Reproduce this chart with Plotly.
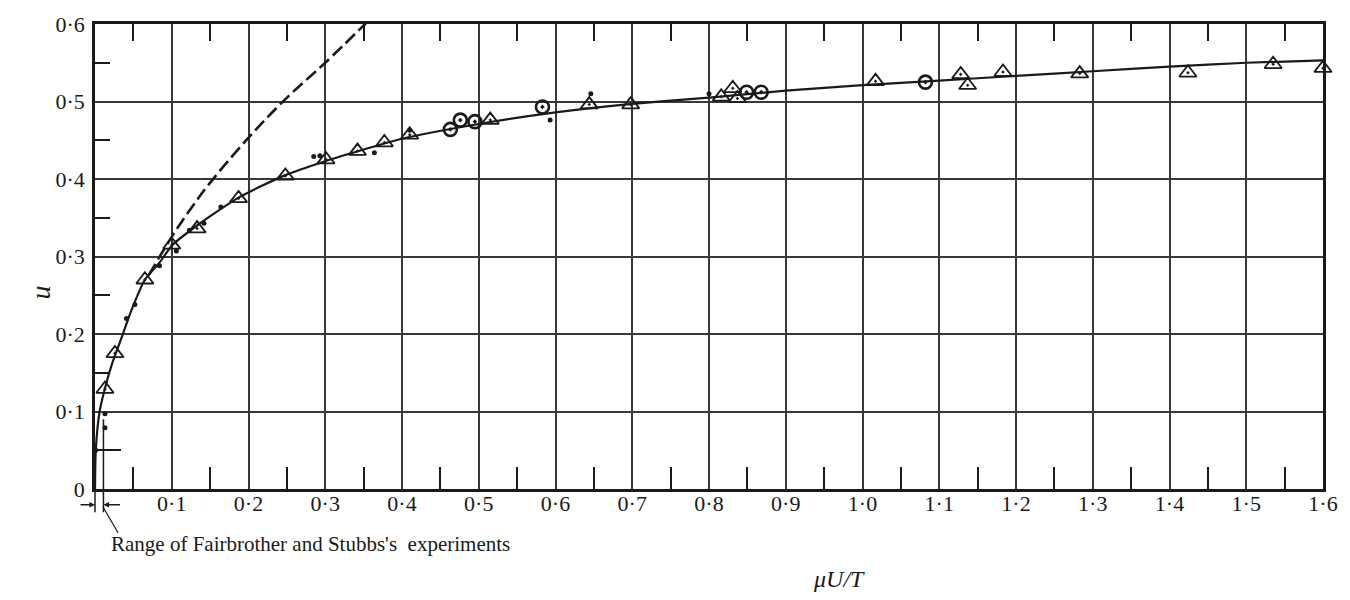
import plotly.graph_objects as go

# ---------------- data ----------------
# solid fitted curve
curve_x = [0.0, 0.001, 0.006, 0.013, 0.023, 0.036, 0.048, 0.065, 0.084, 0.1, 0.133, 0.187,
           0.248, 0.3, 0.35, 0.4, 0.5, 0.6, 0.7, 0.8, 0.9, 1.0, 1.1, 1.2, 1.3, 1.4, 1.5, 1.6]
curve_y = [0.0, 0.05, 0.10, 0.13, 0.164, 0.199, 0.232, 0.27, 0.292, 0.314, 0.340, 0.376,
           0.405, 0.423, 0.438, 0.452, 0.471, 0.486, 0.497, 0.505, 0.514, 0.521, 0.527,
           0.533, 0.539, 0.545, 0.550, 0.553]

# dashed (theoretical) curve
dash_x = [0.07, 0.101, 0.125, 0.149, 0.198, 0.248, 0.30, 0.353]
dash_y = [0.276, 0.327, 0.362, 0.394, 0.451, 0.503, 0.550, 0.601]

# triangles
tri_x = [0.013, 0.026, 0.065, 0.1, 0.133, 0.187, 0.248, 0.301, 0.342, 0.377, 0.41, 0.515,
         0.644, 0.698, 0.816, 0.831, 0.837, 1.017, 1.128, 1.137, 1.183, 1.283, 1.424, 1.535, 1.6]
tri_y = [0.129, 0.175, 0.270, 0.315, 0.336, 0.375, 0.404, 0.425, 0.436, 0.447, 0.457, 0.476,
         0.496, 0.496, 0.506, 0.517, 0.504, 0.526, 0.535, 0.521, 0.538, 0.536, 0.537, 0.548, 0.543]

# circles with centre dot
circ_x = [0.463, 0.476, 0.495, 0.583, 0.849, 0.868, 1.082]
circ_y = [0.464, 0.476, 0.474, 0.493, 0.512, 0.512, 0.525]

# small filled dots
dot_x = [0.001, 0.013, 0.013, 0.041, 0.052, 0.084, 0.106, 0.123, 0.142, 0.164, 0.285, 0.293,
         0.364, 0.41, 0.593, 0.646, 0.80]
dot_y = [0.05, 0.079, 0.097, 0.220, 0.238, 0.288, 0.307, 0.334, 0.343, 0.364, 0.429, 0.430,
         0.434, 0.463, 0.476, 0.51, 0.51]

# range of Fairbrother and Stubbs's experiments (x units)
fs_range = [0.0, 0.011]

x_ticks = [0.1, 0.2, 0.3, 0.4, 0.5, 0.6, 0.7, 0.8, 0.9, 1.0, 1.1, 1.2, 1.3, 1.4, 1.5, 1.6]
x_ticktext = ["0·1", "0·2", "0·3", "0·4", "0·5", "0·6", "0·7", "0·8", "0·9", "1·0",
              "1·1", "1·2", "1·3", "1·4", "1·5", "1·6"]
x_minor = [0.05, 0.15, 0.25, 0.35, 0.45, 0.55, 0.65, 0.75, 0.85, 0.95, 1.05, 1.15, 1.25,
           1.35, 1.45, 1.55]
y_ticks = [0, 0.1, 0.2, 0.3, 0.4, 0.5, 0.6]
y_ticktext = ["0", "0·1", "0·2", "0·3", "0·4", "0·5", "0·6"]
y_minor = [0.15, 0.25, 0.35, 0.45, 0.55]
y_minor_long = [0.05]

XR = [0, 1.6]
YR = [0, 0.6]

FONT = "Liberation Serif"
INK = "#1a1a1a"
GRID = "#383838"


def px(v):
    return (v - XR[0]) / (XR[1] - XR[0])


def py(v):
    return (v - YR[0]) / (YR[1] - YR[0])


fig = go.Figure()

fig.add_trace(go.Scatter(x=curve_x, y=curve_y, mode="lines",
                         line=dict(color=INK, width=2.2, shape="spline", smoothing=0.6),
                         hoverinfo="skip", showlegend=False))
fig.add_trace(go.Scatter(x=dash_x, y=dash_y, mode="lines",
                         line=dict(color=INK, width=2.6, shape="spline", smoothing=1.0,
                                   dash="13px,5px"),
                         hoverinfo="skip", showlegend=False))
fig.add_trace(go.Scatter(x=dot_x, y=dot_y, mode="markers",
                         marker=dict(symbol="circle", size=5, color=INK),
                         cliponaxis=False, showlegend=False))
fig.add_trace(go.Scatter(x=tri_x, y=tri_y, mode="markers",
                         marker=dict(symbol="triangle-up-open-dot", size=15, color=INK,
                                     line=dict(width=1.8, color=INK)),
                         cliponaxis=False, showlegend=False))
fig.add_trace(go.Scatter(x=circ_x, y=circ_y, mode="markers",
                         marker=dict(symbol="circle-open-dot", size=13, color=INK,
                                     line=dict(width=2.6, color=INK)),
                         cliponaxis=False, showlegend=False))

# invisible helpers for the overlay axes (top minor ticks, long 0.05 tick)
fig.add_trace(go.Scatter(x=[0.5], y=[0.3], xaxis="x2", yaxis="y", mode="markers",
                         marker=dict(opacity=0), hoverinfo="skip", showlegend=False))
fig.add_trace(go.Scatter(x=[0.5], y=[0.3], xaxis="x", yaxis="y2", mode="markers",
                         marker=dict(opacity=0), hoverinfo="skip", showlegend=False))

fig.update_layout(
    width=1350, height=600,
    margin=dict(l=95, r=17, t=18, b=111),
    paper_bgcolor="white", plot_bgcolor="white",
    font=dict(family=FONT, size=22, color=INK),
    xaxis=dict(range=XR, tickmode="array", tickvals=x_ticks, ticktext=x_ticktext,
               ticks="", showgrid=True, gridcolor=GRID, gridwidth=1.7,
               showline=True, linecolor=INK, linewidth=2.6, mirror=True,
               zeroline=False, ticklabelstandoff=-7,
               minor=dict(tickmode="array", tickvals=x_minor, ticks="inside",
                          ticklen=22, tickwidth=1.5, tickcolor=INK, showgrid=False)),
    xaxis2=dict(range=XR, overlaying="x", side="top", matches="x", showgrid=False,
                zeroline=False, showticklabels=False, showline=False,
                tickmode="array", tickvals=x_minor, ticks="inside", ticklen=17,
                tickwidth=1.5, tickcolor=INK),
    yaxis=dict(range=YR, tickmode="array", tickvals=y_ticks, ticktext=y_ticktext,
               ticks="", showgrid=True, gridcolor=GRID, gridwidth=1.7,
               showline=True, linecolor=INK, linewidth=2.6, mirror=True,
               zeroline=False, ticklabelstandoff=3,
               minor=dict(tickmode="array", tickvals=y_minor, ticks="inside",
                          ticklen=15, tickwidth=1.5, tickcolor=INK, showgrid=False)),
    yaxis2=dict(range=YR, overlaying="y", side="left", matches="y", showgrid=False,
                zeroline=False, showticklabels=False, showline=False,
                tickmode="array", tickvals=y_minor_long, ticks="inside", ticklen=26,
                tickwidth=1.5, tickcolor=INK),
)

# range marker for Fairbrother and Stubbs's experiments
arrow_y = -0.034
fig.add_shape(type="line", xref="paper", yref="paper",
              x0=px(fs_range[0]), x1=px(fs_range[0]), y0=-0.05, y1=0,
              line=dict(color=INK, width=1.5))
fig.add_shape(type="line", xref="paper", yref="paper",
              x0=px(fs_range[1]), x1=px(fs_range[1]), y0=-0.05, y1=py(0.09),
              line=dict(color=INK, width=1.5))
fig.add_annotation(xref="paper", yref="paper", x=px(fs_range[0]), y=arrow_y, text="",
                   showarrow=True, ax=-16, ay=0, arrowhead=2, arrowsize=0.8,
                   arrowwidth=1.4, arrowcolor=INK, standoff=0)
fig.add_annotation(xref="paper", yref="paper", x=px(fs_range[1]), y=arrow_y, text="",
                   showarrow=True, ax=18, ay=0, arrowhead=2, arrowsize=0.8,
                   arrowwidth=1.4, arrowcolor=INK, standoff=0)
fig.add_shape(type="line", xref="paper", yref="paper",
              x0=px(0.0103), y0=-0.038, x1=px(0.03), y1=-0.094,
              line=dict(color=INK, width=1.2))
fig.add_annotation(xref="paper", yref="paper", x=0.011, y=-0.119,
                   xanchor="left", yanchor="middle", showarrow=False,
                   text="Range of Fairbrother and Stubbs's  experiments",
                   font=dict(family=FONT, size=21, color=INK))

# axis titles
fig.add_annotation(xref="paper", yref="paper", x=0.606, y=-0.193,
                   xanchor="center", yanchor="middle", showarrow=False,
                   text="<i>μU/T</i>", font=dict(family=FONT, size=24, color=INK))
fig.add_annotation(xref="paper", yref="paper", x=-0.044, y=0.4225,
                   xanchor="center", yanchor="middle", showarrow=False, textangle=-90,
                   text="<i>u</i>", font=dict(family=FONT, size=28, color=INK))

fig.write_html("out.html")
